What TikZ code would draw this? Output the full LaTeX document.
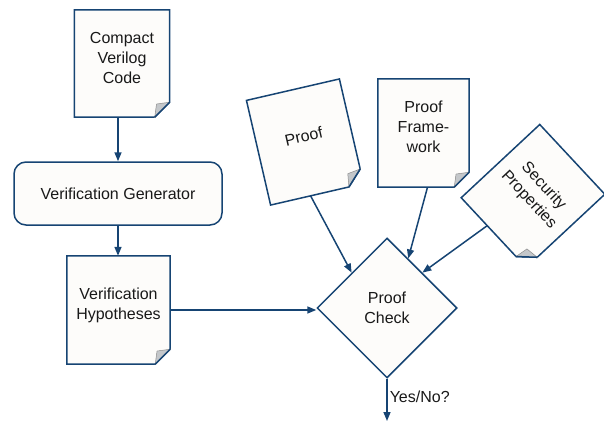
\documentclass[tikz,border=0pt]{standalone}
\usepackage{fontspec}
\setmainfont{Liberation Sans}
\usetikzlibrary{arrows.meta,shapes.geometric,calc,backgrounds}

\definecolor{navy}{RGB}{22,68,115}
\definecolor{paper}{RGB}{253,252,250}
\definecolor{curl}{RGB}{196,199,202}

\newcommand{\docframe}[1]{%
  \coordinate (#1-a) at ($(#1.south east)!15pt!(#1.north east)$);
  \coordinate (#1-b) at ($(#1.south east)!15pt!(#1.south west)$);
  \begin{pgfonlayer}{background}
    \draw[docline] (#1.north west) -- (#1.north east) -- (#1-a) -- (#1-b) -- (#1.south west) -- cycle;
  \end{pgfonlayer}
  \filldraw[curlfold] (#1-a) -- ($(#1-a)!0.5!(#1-b)!8pt!-90:(#1-b)$) -- (#1-b) -- cycle;
  \draw[navy,line width=1.5pt] (#1-a) -- (#1-b);
}

\begin{document}
\begin{tikzpicture}[x=1pt,y=-1pt,
  every node/.style={font=\fontsize{16}{20}\selectfont, text=black!90},
  docu/.style={rectangle, align=center, inner sep=0pt, minimum width=95pt, minimum height=107pt, text depth=12pt},
  docline/.style={draw=navy, fill=paper, line width=1.5pt},
  curlfold/.style={fill=curl, draw=black!45, line width=0.5pt},
  genbox/.style={rectangle, rounded corners=12pt, draw=navy, fill=paper, line width=1.5pt, minimum width=208pt, minimum height=63pt},
  checkbox/.style={diamond, aspect=1, draw=navy, fill=paper, line width=1.5pt, inner sep=0pt, minimum width=140pt, minimum height=140pt, align=center},
  flow/.style={draw=navy, line width=1.5pt, -{Triangle[length=9pt,width=7pt]}}]
\useasboundingbox (0,0) rectangle (604,423);

\node[docu] (code) at (122,63.5) {Compact\\Verilog\\Code};
\docframe{code}
\node[genbox] (gen) at (118,193.5) {Verification Generator};
\node[docu, minimum width=103pt, minimum height=108pt] (hyp) at (118.5,310) {Verification\\Hypotheses};
\docframe{hyp}
\node[checkbox] (check) at (387,308) {Proof\\Check};
\node[docu, rotate=13] (proof) at (305,142) {Proof};
\docframe{proof}
\node[docu, minimum width=91pt, minimum height=108pt] (frame) at (423.5,133) {Proof\\Frame-\\work};
\docframe{frame}
\node[docu, rotate=-47] (sec) at (533,196) {Security\\Properties};
\docframe{sec}
\coordinate (verdict) at (387,421);

\draw[flow] (code.south -| gen.north) -- (gen.north);
\draw[flow] (gen.south) -- (gen.south |- hyp.north);
\draw[flow] (hyp.east) -- (hyp.east -| check.west);
\draw[flow] ($(proof.south west)!0.43!(proof.south east)$) -- (check.north west);
\draw[flow] ([xshift=4pt]frame.south) -- ($(check.north)!0.3!(check.east)$);
\draw[flow] ($(sec.south west)!0.4!(sec.south east)$) -- (check.north east);
\draw[flow] (check.south) -- node[right, pos=0.42, inner sep=2pt] {Yes/No?} (verdict);
\end{tikzpicture}
\end{document}
